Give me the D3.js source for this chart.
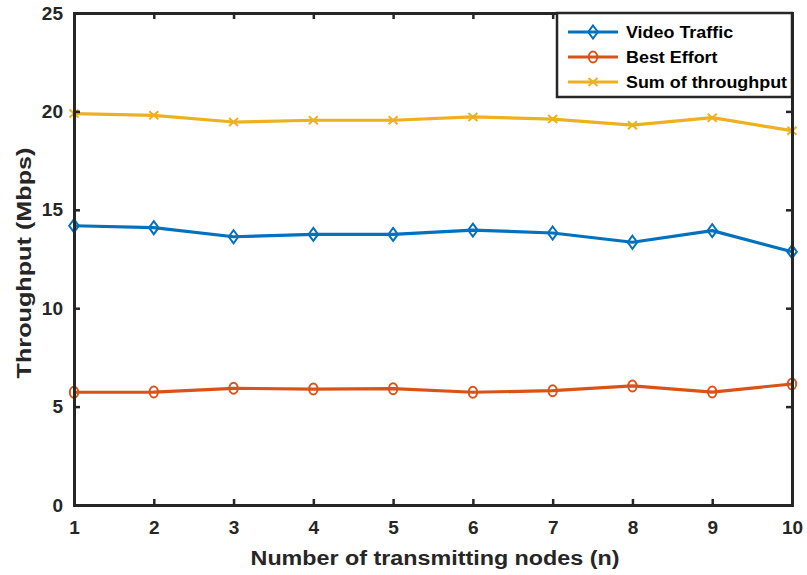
<!DOCTYPE html>
<html>
<head>
<meta charset="utf-8">
<script src="https://cdn.jsdelivr.net/npm/d3@7"></script>
<style>
  html, body { margin: 0; padding: 0; background: #fff; }
  svg { display: block; font-family: "Liberation Sans", Arial, sans-serif; font-weight: bold; }
</style>
</head>
<body>
<svg id="chart" width="807" height="575"></svg>
<script>
// Number of transmitting nodes
const nodes = [1, 2, 3, 4, 5, 6, 7, 8, 9, 10];
// Throughput per traffic class (Mbps)
const videoTraffic = [14.19, 14.09, 13.63, 13.75, 13.75, 13.97, 13.82, 13.35, 13.94, 12.87];
const bestEffort   = [5.73, 5.74, 5.93, 5.89, 5.91, 5.73, 5.81, 6.05, 5.74, 6.15];
const sumThroughput = [19.89, 19.80, 19.46, 19.55, 19.55, 19.72, 19.61, 19.30, 19.68, 19.02];

const yTicks = [0, 5, 10, 15, 20, 25];
const xTicks = [1, 2, 3, 4, 5, 6, 7, 8, 9, 10];

const seriesNames = ["Video Traffic", "Best Effort", "Sum of throughput"];
const seriesColors = ["#0072BD", "#D95319", "#EDB120"];
const seriesMarkers = ["diamond", "circle", "cross"];
const seriesValues = [videoTraffic, bestEffort, sumThroughput];

const svg = d3.select("#chart");
const plot = { left: 74, right: 792, top: 13, bottom: 505 };
const axisColor = "#262626";

const x = d3.scaleLinear().domain([1, 10]).range([plot.left, plot.right]);
const y = d3.scaleLinear().domain([0, 25]).range([plot.bottom, plot.top]);

// marker shapes drawn around (0,0)
function drawMarker(g, type, color) {
  if (type === "diamond") {
    g.append("path").attr("d", "M0,-6.5L4.8,0L0,6.5L-4.8,0Z")
      .attr("fill", "none").attr("stroke", color).attr("stroke-width", 2);
  } else if (type === "circle") {
    g.append("ellipse").attr("rx", 4.2).attr("ry", 5.5)
      .attr("fill", "none").attr("stroke", color).attr("stroke-width", 2);
  } else {
    g.append("path").attr("d", "M-4.5,-4L4.5,4M-4.5,4L4.5,-4")
      .attr("fill", "none").attr("stroke", color).attr("stroke-width", 2);
  }
}

// series lines and markers
const line = d3.line().x((d, i) => x(nodes[i])).y(d => y(d));
seriesValues.forEach((vals, s) => {
  svg.append("path").datum(vals)
    .attr("d", line)
    .attr("fill", "none")
    .attr("stroke", seriesColors[s])
    .attr("stroke-width", 3.2)
    .attr("stroke-linejoin", "round");
  vals.forEach((v, i) => {
    const g = svg.append("g").attr("transform", `translate(${x(nodes[i])},${y(v)})`);
    drawMarker(g, seriesMarkers[s], seriesColors[s]);
  });
});

// axes: ticks pointing inward, mirrored on top and right
const tickLen = 6;
const xAxisB = d3.axisBottom(x).tickValues(xTicks).tickSize(-tickLen).tickPadding(16).tickFormat(d3.format("d"));
const xAxisT = d3.axisTop(x).tickValues(xTicks).tickSize(-tickLen).tickFormat("");
const yAxisL = d3.axisLeft(y).tickValues(yTicks).tickSize(-tickLen).tickPadding(11).tickFormat(d3.format("d"));
const yAxisR = d3.axisRight(y).tickValues(yTicks).tickSize(-tickLen).tickFormat("");

function styleAxis(g) {
  g.attr("font-size", null).attr("font-family", null);
  g.selectAll("path.domain").attr("stroke", axisColor).attr("stroke-width", 3);
  g.selectAll(".tick line").attr("stroke", axisColor).attr("stroke-width", 2.5);
  g.selectAll(".tick text").attr("fill", axisColor)
    .style("font-size", "19px").style("font-weight", "bold")
    .style("font-family", "'Liberation Sans', Arial, sans-serif");
}

svg.append("g").attr("transform", `translate(0,${plot.bottom})`).call(xAxisB).call(styleAxis);
svg.append("g").attr("transform", `translate(0,${plot.top})`).call(xAxisT).call(styleAxis);
svg.append("g").attr("transform", `translate(${plot.left},0)`).call(yAxisL).call(styleAxis);
svg.append("g").attr("transform", `translate(${plot.right},0)`).call(yAxisR).call(styleAxis);
svg.selectAll(".domain").attr("stroke-linecap", "square");

// axis titles (glyphs widened along the text direction)
svg.append("text")
  .attr("transform", `translate(${(plot.left + plot.right) / 2 + 2},565) scale(1.11,1)`)
  .attr("text-anchor", "middle")
  .attr("fill", axisColor).style("font-size", "21px")
  .text("Number of transmitting nodes (n)");

svg.append("text")
  .attr("transform", `translate(31,263) rotate(-90) scale(1.2,1)`)
  .attr("text-anchor", "middle")
  .attr("fill", axisColor).style("font-size", "21px")
  .text("Throughput (Mbps)");

// legend
const lg = svg.append("g");
lg.append("rect")
  .attr("x", 557).attr("y", 13).attr("width", 235).attr("height", 84)
  .attr("fill", "#fff").attr("stroke", axisColor).attr("stroke-width", 2.5);
const rowY = [32, 57, 82];
seriesNames.forEach((name, s) => {
  lg.append("line")
    .attr("x1", 568).attr("x2", 618).attr("y1", rowY[s]).attr("y2", rowY[s])
    .attr("stroke", seriesColors[s]).attr("stroke-width", 3.2);
  const g = lg.append("g").attr("transform", `translate(593,${rowY[s]})`);
  drawMarker(g, seriesMarkers[s], seriesColors[s]);
  lg.append("text")
    .attr("transform", `translate(626,${rowY[s]}) scale(1.12,1)`)
    .attr("dy", "0.36em")
    .attr("fill", "#000").style("font-size", "16px")
    .text(name);
});
</script>
</body>
</html>
